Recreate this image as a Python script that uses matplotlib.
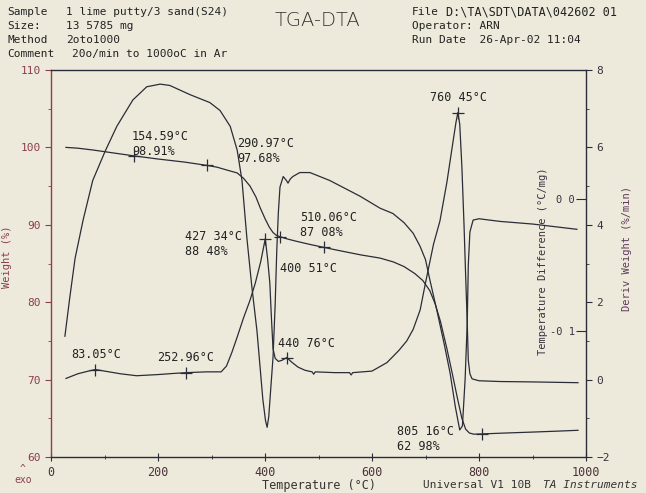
import numpy as np

import matplotlib
matplotlib.use('Agg')
import matplotlib.pyplot as plt
from matplotlib.ticker import MultipleLocator

# TGA weight curve (deg C, %)
temp_tga = [28, 50, 80, 110, 154.59, 200, 250, 290.97, 310, 330, 348, 360, 372, 383,
            391, 400, 408, 415, 421, 427.34, 440, 460, 485, 510.06, 540, 580, 615,
            640, 660, 680, 695, 708, 718, 728, 740, 750, 760, 768, 775, 782, 790,
            805.16, 850, 900, 950, 985]
weight = [100.0, 99.9, 99.65, 99.35, 98.91, 98.5, 98.1, 97.68, 97.45, 97.05, 96.7, 96.0,
          95.0, 93.6, 92.2, 90.8, 89.7, 89.0, 88.65, 88.48, 88.2, 87.85, 87.45, 87.08,
          86.65, 86.1, 85.7, 85.2, 84.6, 83.7, 82.8, 81.5, 79.8, 77.5, 74.0, 70.8,
          67.5, 65.0, 63.6, 63.1, 62.95, 62.98, 63.1, 63.22, 63.35, 63.45]

# derivative weight curve (deg C, %/min)
temp_dtg = [28, 50, 70, 83.05, 100, 130, 160, 200, 230, 252.96, 290, 318, 328, 338, 348,
            360, 372, 382, 392, 400.51, 405, 409, 412, 415, 419, 425, 432, 440.76, 450,
            462, 475, 488, 491, 494, 530, 558, 561, 564, 600, 628, 650, 665, 677, 690,
            700, 715, 727, 740, 752, 757, 760.45, 764, 768, 772, 775, 778, 780, 783,
            787, 800, 840, 900, 985]
deriv = [0.03, 0.15, 0.22, 0.26, 0.22, 0.15, 0.10, 0.13, 0.16, 0.18, 0.20, 0.20, 0.35,
         0.70, 1.10, 1.60, 2.05, 2.50, 3.05, 3.64, 3.10, 2.50, 1.60, 0.80, 0.55, 0.47,
         0.50, 0.57, 0.45, 0.32, 0.24, 0.20, 0.14, 0.20, 0.18, 0.18, 0.12, 0.18, 0.22,
         0.44, 0.75, 1.00, 1.30, 1.80, 2.50, 3.50, 4.10, 5.10, 6.20, 6.65, 6.90, 6.60,
         5.50, 4.00, 2.70, 1.47, 0.50, 0.15, 0.02, -0.03, -0.05, -0.06, -0.08]

# DTA curve (deg C, deg C/mg)
temp_dta = [26, 35, 45, 60, 78, 101, 123, 153, 179, 204, 222, 260, 297, 316, 335, 348,
            357, 366, 375, 385, 396, 401, 404, 407, 410, 415, 419, 422, 425, 428, 434,
            440, 443, 447, 452, 465, 484, 521, 578, 615, 639, 660, 677, 690, 700, 708,
            721, 735, 746, 756, 764, 769, 774, 778, 780, 783, 789, 800, 839, 900, 983]
tdiff = [-0.104, -0.075, -0.045, -0.016, 0.014, 0.036, 0.055, 0.075, 0.085, 0.087, 0.086,
         0.079, 0.073, 0.067, 0.055, 0.037, 0.014, -0.029, -0.065, -0.100, -0.152,
         -0.168, -0.173, -0.165, -0.148, -0.120, -0.080, -0.039, -0.010, 0.009, 0.017,
         0.014, 0.012, 0.015, 0.017, 0.020, 0.020, 0.014, 0.002, -0.007, -0.011, -0.018,
         -0.026, -0.036, -0.046, -0.061, -0.084, -0.110, -0.132, -0.158, -0.175, -0.172,
         -0.137, -0.094, -0.050, -0.025, -0.016, -0.015, -0.017, -0.019, -0.023]

# marked points
tga_mark_t = [154.59, 290.97, 427.34, 510.06, 805.16]
tga_mark_w = [98.91, 97.68, 88.48, 87.08, 62.98]
dtg_mark_t = [83.05, 252.96, 440.76, 400.51, 760.45]
dtg_mark_d = [0.26, 0.18, 0.57, 3.64, 6.90]

# annotation texts and where they sit (deg C, weight %)
notes = ["154.59°C\n98.91%", "290.97°C\n97.68%", "427 34°C\n88 48%", "510.06°C\n87 08%",
         "400 51°C", "440 76°C", "83.05°C", "252.96°C", "760 45°C", "805 16°C\n62 98%"]
notes_t = [151, 348, 250, 465, 428, 424, 37, 198, 708, 647]
notes_w = [100.4, 99.5, 87.5, 90.0, 84.3, 74.6, 73.3, 72.9, 106.4, 62.3]

bg = '#eeeadb'
ink = '#2a2c38'
maroon = '#8a3f4c'
purple = '#5e3a5a'
mono = 'DejaVu Sans Mono'

plt.rcParams['font.family'] = mono
plt.rcParams['font.size'] = 8

fig = plt.figure(figsize=(6.46, 4.93), dpi=100, facecolor=bg)
ax = fig.add_axes([51 / 646, 36 / 493, 535 / 646, 387 / 493])
ax.set_facecolor(bg)
ax2 = ax.twinx()
ax3 = ax.twinx()

ax.plot(temp_tga, weight, color=ink, lw=0.9)
ax.plot(tga_mark_t, tga_mark_w, '+', color=ink, ms=8, mew=0.9)
ax2.plot(temp_dtg, deriv, color=ink, lw=0.9)
ax2.plot(dtg_mark_t, dtg_mark_d, '+', color=ink, ms=8, mew=0.9)
ax3.plot(temp_dta, tdiff, color=ink, lw=0.9)

for s, t, w in zip(notes, notes_t, notes_w):
    ax.text(t, w, s, ha='left', va='center', color='#222222', fontsize=8.5, linespacing=1.2)

ax.set_xlim(0, 1000)
ax.set_ylim(60, 110)
ax2.set_ylim(-2, 8)
ax3.set_ylim(-0.1955, 0.0977)

ax.xaxis.set_major_locator(MultipleLocator(200))
ax.xaxis.set_minor_locator(MultipleLocator(100))
ax.yaxis.set_major_locator(MultipleLocator(10))
ax.yaxis.set_minor_locator(MultipleLocator(5))
ax2.yaxis.set_major_locator(MultipleLocator(2))
ax2.yaxis.set_minor_locator(MultipleLocator(1))

ax.tick_params(axis='y', which='major', direction='out', length=4, colors=maroon, labelsize=8)
ax.tick_params(axis='y', which='minor', direction='out', length=2, colors=maroon)
ax.tick_params(axis='x', which='major', direction='inout', length=6, color=ink,
               labelcolor='#4a3438', labelsize=8.5)
ax.tick_params(axis='x', which='minor', direction='inout', length=3, color=ink)
ax2.tick_params(axis='y', which='major', direction='out', length=4, color=ink,
                labelcolor='#3a3040', labelsize=8)
ax2.tick_params(axis='y', which='minor', direction='out', length=2, color=ink)

ax3.set_yticks([0.0, -0.1], labels=['0 0', '-0 1'], ha='right')
ax3.tick_params(axis='y', direction='in', length=7, pad=-8, color=ink,
                labelcolor='#3a3040', labelsize=7.5)

for a in (ax2, ax3):
    a.spines['left'].set_visible(False)
    a.spines['top'].set_visible(False)
    a.spines['bottom'].set_visible(False)
ax3.spines['right'].set_visible(False)
ax.spines['right'].set_visible(False)
ax.spines['left'].set_color(maroon)
ax.spines['top'].set_color(ink)
ax.spines['bottom'].set_color(ink)
ax2.spines['right'].set_color(ink)
for a in (ax, ax2):
    for sp in a.spines.values():
        sp.set_linewidth(1.0)

ax.set_ylabel('Weight (%)', color=maroon, fontsize=7.5)
ax.yaxis.set_label_coords(-0.072, 0.517)
ax.set_xlabel('Temperature (°C)', color='#333333', fontsize=8.5)
ax.xaxis.set_label_coords(0.5, -0.058)
ax2.set_ylabel('Deriv Weight (%/min)', color=purple, fontsize=7.5)
ax2.yaxis.set_label_coords(1.067, 0.54)
ax3.set_ylabel('Temperature Difference (°C/mg)', color='#3a3040', fontsize=7.5)
ax3.yaxis.set_label_coords(0.91, 0.505)

# header block
txt = '#222222'
hdr = [("Sample", "1 lime putty/3 sand(S24)", 12), ("Size:", "13 5785 mg", 26),
       ("Method", "2oto1000", 40)]
for k, v, y in hdr:
    fig.text(7 / 646, 1 - y / 493, k, ha='left', va='center', fontsize=8, color=txt)
    fig.text(66 / 646, 1 - y / 493, v, ha='left', va='center', fontsize=8, color=txt)
fig.text(7 / 646, 1 - 54 / 493, "Comment", ha='left', va='center', fontsize=8, color=txt)
fig.text(72 / 646, 1 - 54 / 493, "20o/min to 1000oC in Ar", ha='left', va='center',
         fontsize=8, color=txt)
fig.text(317 / 646, 1 - 20 / 493, "TGA-DTA", ha='center', va='center', fontsize=14,
         family='DejaVu Sans', fontweight='light', color='#333333')
fig.text(412 / 646, 1 - 12 / 493, "File", ha='left', va='center', fontsize=8, color=txt)
fig.text(446 / 646, 1 - 12 / 493, "D:\\TA\\SDT\\DATA\\042602 01", ha='left',
         va='center', fontsize=8.5, color=txt)
fig.text(412 / 646, 1 - 26 / 493, "Operator: ARN", ha='left', va='center', fontsize=8,
         color=txt)
fig.text(412 / 646, 1 - 40 / 493, "Run Date  26-Apr-02 11:04", ha='left', va='center',
         fontsize=8, color=txt)

fig.text(23 / 646, 1 - 469 / 493, "^", ha='center', va='center', fontsize=7, color=maroon)
fig.text(23 / 646, 1 - 480 / 493, "exo", ha='center', va='center', fontsize=7, color=maroon)
fig.text(423 / 646, 1 - 485 / 493, "Universal V1 10B", ha='left', va='center', fontsize=8,
         color='#333333')
fig.text(543 / 646, 1 - 485 / 493, "TA Instruments", ha='left', va='center', fontsize=8,
         style='italic', color='#333333')

fig.savefig('out.png', dpi=100, facecolor=bg)
